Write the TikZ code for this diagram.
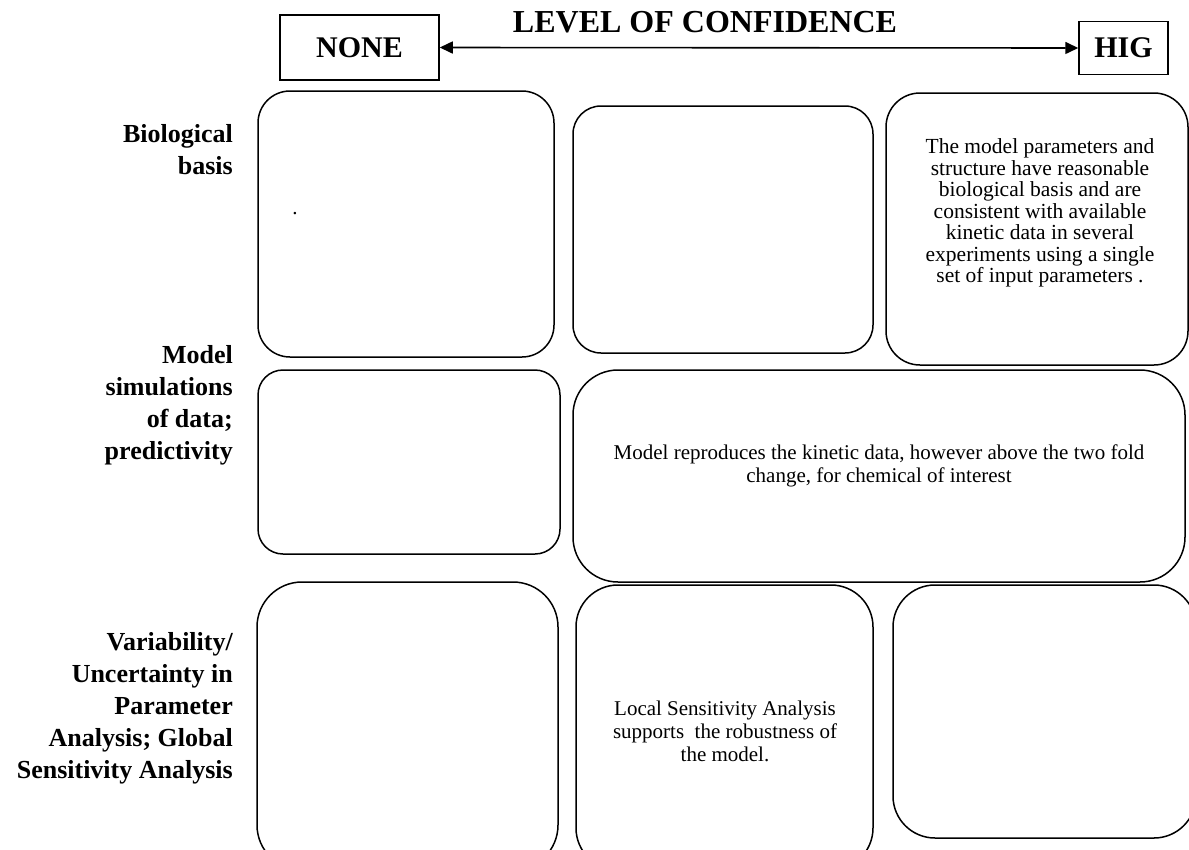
\documentclass[tikz,border=0pt]{standalone}
\usepackage{fontspec}
\setmainfont{Liberation Serif}
\usepackage{tikz}
\usetikzlibrary{arrows.meta,positioning}

\tikzset{
  cell/.style={draw,line width=1.5pt,inner sep=0pt},
  endbox/.style={draw,line width=1.5pt,inner sep=0pt,font=\bfseries\fontsize{30}{30}\selectfont},
  body/.style={align=center,inner sep=0pt,font=\fontsize{21}{23}\selectfont},
  rowlabel/.style={align=right,anchor=east,inner sep=0pt,font=\bfseries\fontsize{26}{32}\selectfont},
}

\begin{document}
\begin{tikzpicture}[x=1pt,y=-1pt]
\useasboundingbox (0,0) rectangle (1189,849);
\clip (0,0) rectangle (1189,849);

% scale of confidence
\node[font=\bfseries\fontsize{32}{32}\selectfont,anchor=base] (title) at (705,32) {LEVEL OF CONFIDENCE};
\node[endbox,minimum width=159pt,minimum height=65pt] (none) at (359.5,47.5) {NONE};
\node[endbox,minimum width=89pt,minimum height=53pt] (hig) at (1123.5,48) {HIG};
\draw[line width=1.6pt,{Triangle[length=13pt,width=12pt]}-{Triangle[length=13pt,width=12pt]}] (none.east) -- (hig.west);

% criteria
\node[rowlabel] (biol) at (233,150) {Biological\\basis};
\node[rowlabel] (simul) at (233,405) {Model\\simulations\\of data;\\predictivity};
\node[rowlabel] (varia) at (233,708) {Variability/\\Uncertainty in\\Parameter\\Analysis; Global\\Sensitivity Analysis};

% grid of rounded boxes
\foreach \nm/\xa/\ya/\xb/\yb/\r in {b11/258/91/554/357/32, b12/573/106/873/353/28, b13/886/93/1188/365/34,
    b21/258/370/560/554/25, b22/573/370/1185/582/45,
    b31/257/582/558/870/45, b32/576/585/873/870/42, b33/893/585/1196/838/42}{
  \node[cell,rounded corners=\r pt,minimum width={(\xb-\xa)*1pt},minimum height={(\yb-\ya)*1pt}]
    (\nm) at ({(\xa+\xb)/2},{(\ya+\yb)/2}) {};
}

\node[body,anchor=base] (dot) at (295,214) {.};
\node[body,font=\fontsize{21.5}{21.5}\selectfont] (t13) at (1040,213) {The model parameters and\\structure have reasonable\\biological basis and are\\consistent with available\\kinetic data in several\\experiments using a single\\set of input parameters .};
\node[body] (t22) at (879,466) {Model reproduces the kinetic data, however above the two fold\\change, for chemical of interest};
\node[body] (t32) at (725,731) {Local Sensitivity Analysis\\supports \ the robustness of\\the model.};
\end{tikzpicture}
\end{document}
